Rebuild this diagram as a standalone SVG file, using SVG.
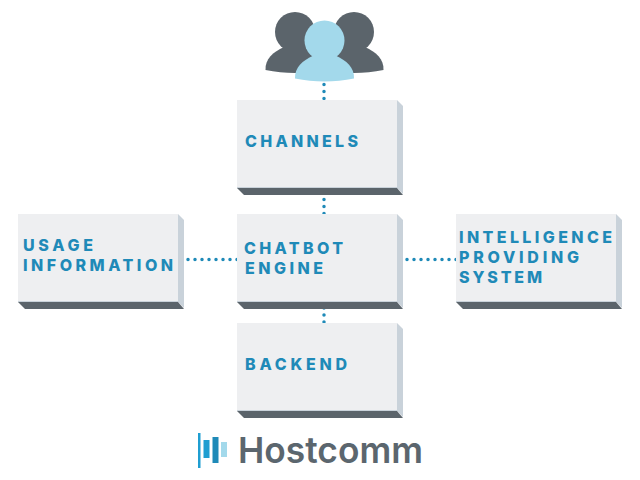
<svg xmlns="http://www.w3.org/2000/svg" width="640" height="480" viewBox="0 0 640 480">
<style>
.front{fill:#eeeff1}
.side{fill:#c9d2da}
.bottom{fill:#5b646b}
.lbl{font-family:Inter,"Liberation Sans",sans-serif;font-weight:800;font-size:16px;fill:#1f8ab8}
.dot{fill:none;stroke:#1f8ab8;stroke-width:3.500;stroke-linecap:round;stroke-dasharray:0 7}
.dk{fill:#5b646b}
.lt{fill:#a3d9eb}
</style>
<defs>
<g id="box">
<path class="side" d="M160 0L166 6V94L160 88Z"/>
<path class="bottom" d="M0 88H160L166 95H7Z"/>
<rect class="front" width="160" height="88"/>
<rect class="side" y="87" width="160" height="1"/>
</g>
<g id="person">
<circle cx="0" cy="20" r="20"/>
<path d="M-29.500 58C-30 47 -22 40 -11 35H11C22 40 30 47 29.500 58C10 62 -10 62 -29.500 58Z"/>
</g>
</defs>
<g id="connectors">
<path class="dot" d="M324 84.500V100"/>
<path class="dot" d="M324 199.500V214"/>
<path class="dot" d="M324 308V323"/>
<path class="dot" d="M188 259.500H237.500"/>
<path class="dot" d="M407 259.500H456.500"/>
</g>
<g id="users">
<use href="#person" class="dk" transform="translate(295,12)"/>
<use href="#person" class="dk" transform="translate(354,12)"/>
<use href="#person" class="lt" transform="translate(324.500,20.500)"/>
</g>
<g id="channels"><use href="#box" x="237" y="100"/><text class="lbl" x="245" y="147" textLength="113">CHANNELS</text></g>
<g id="chatbot-engine"><use href="#box" x="237" y="214"/><text class="lbl" x="244" y="254" textLength="99">CHATBOT</text><text class="lbl" x="245" y="274" textLength="78">ENGINE</text></g>
<g id="backend"><use href="#box" x="237" y="323"/><text class="lbl" x="245" y="370" textLength="102">BACKEND</text></g>
<g id="usage-information"><use href="#box" x="18" y="214"/><text class="lbl" x="23" y="251" textLength="70">USAGE</text><text class="lbl" x="23" y="271" textLength="150">INFORMATION</text></g>
<g id="intelligence"><use href="#box" x="456" y="214"/><text class="lbl" x="459" y="243" textLength="153">INTELLIGENCE</text><text class="lbl" x="459" y="263" textLength="120">PROVIDING</text><text class="lbl" x="459" y="283" textLength="83">SYSTEM</text></g>
<g id="logo">
<rect x="198" y="433" width="2.500" height="35" fill="#1f9ed1"/>
<rect x="203.500" y="440" width="6" height="18" fill="#1f9ed1"/>
<rect x="212.500" y="437" width="6" height="26" fill="#1f8ab8"/>
<rect x="221" y="442" width="6" height="15" fill="#a3d9eb"/>
<text x="238" y="463" font-family="Inter,'Liberation Sans',sans-serif" font-weight="600" font-size="36" textLength="185" lengthAdjust="spacingAndGlyphs" fill="#5b666e">Hostcomm</text>
</g>
</svg>
